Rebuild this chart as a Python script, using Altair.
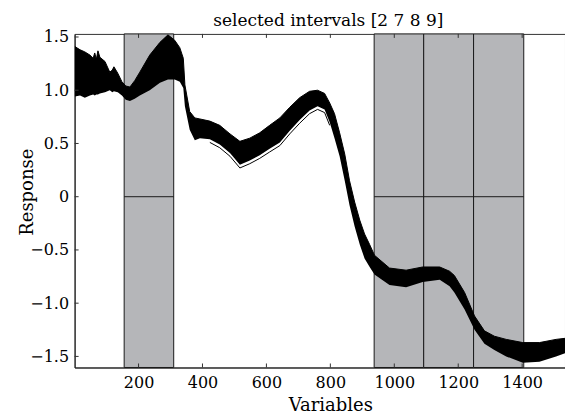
import altair as alt
import pandas as pd

# ---- data ----
band_v = [1, 17, 32, 48, 58, 63, 68, 73, 79, 95, 110, 118, 123, 135, 148, 160, 173, 188, 204,
          235, 267, 292, 313, 329, 340, 345, 360, 376, 392, 423, 454, 486, 517, 548, 579, 610,
          642, 673, 704, 735, 760, 782, 798, 813, 829, 845, 860, 876, 892, 907, 923, 938, 985,
          1037, 1089, 1142, 1173, 1188, 1220, 1251, 1282, 1313, 1350, 1402, 1454, 1506, 1534]
band_upper = [1.41, 1.38, 1.36, 1.33, 1.30, 1.35, 1.29, 1.37, 1.31, 1.27, 1.17, 1.19, 1.22, 1.16,
              1.08, 1.04, 1.03, 1.09, 1.17, 1.33, 1.45, 1.52, 1.47, 1.40, 1.30, 1.05, 0.80, 0.74,
              0.73, 0.71, 0.67, 0.59, 0.52, 0.55, 0.60, 0.67, 0.74, 0.84, 0.93, 0.99, 1.00, 0.97,
              0.88, 0.78, 0.60, 0.40, 0.15, -0.05, -0.22, -0.35, -0.45, -0.55, -0.67, -0.69, -0.66,
              -0.66, -0.70, -0.74, -0.90, -1.12, -1.26, -1.31, -1.34, -1.37, -1.37, -1.34, -1.33]
band_lower = [0.94, 0.95, 0.93, 0.95, 0.96, 0.95, 0.96, 0.96, 0.97, 0.98, 1.00, 0.98, 0.99, 0.98,
              0.95, 0.91, 0.90, 0.92, 0.95, 1.00, 1.07, 1.10, 1.10, 1.08, 1.02, 0.85, 0.63, 0.53,
              0.55, 0.54, 0.49, 0.41, 0.30, 0.34, 0.39, 0.45, 0.51, 0.62, 0.72, 0.81, 0.85, 0.82,
              0.70, 0.55, 0.38, 0.15, -0.08, -0.28, -0.45, -0.58, -0.66, -0.73, -0.83, -0.85, -0.80,
              -0.78, -0.84, -0.90, -1.06, -1.25, -1.38, -1.44, -1.50, -1.56, -1.55, -1.50, -1.47]

outlier_v = [423, 454, 486, 517, 548, 579, 610, 642, 673, 704, 735, 760, 782, 798]
outlier_r = [0.51, 0.46, 0.38, 0.27, 0.31, 0.36, 0.42, 0.48, 0.59, 0.69, 0.78, 0.82,
             0.79, 0.67]

interval_start = [155, 937, 1092, 1248]
interval_end = [310, 1092, 1248, 1405]

x_ticks = [200, 400, 600, 800, 1000, 1200, 1400]
y_ticks = [-1.5, -1.0, -0.5, 0, 0.5, 1.0, 1.5]

title_text = "selected intervals [2 7 8 9]"

# ---- layout ----
W, H = 491, 334
FONT = "DejaVu Serif"
xs = alt.Scale(domain=[0, 1534], nice=False, zero=False)
ys = alt.Scale(domain=[-1.604, 1.529], nice=False, zero=False)

x_axis = alt.Axis(values=x_ticks, format="d", ticks=False, grid=False,
                  labelPadding=7, titleX=256, titleY=43, titleBaseline="alphabetic")
y_axis = alt.Axis(values=y_ticks, ticks=False, grid=False, labelPadding=6,
                  labelExpr="datum.value == 0 ? '0' : format(datum.value, '.1f')",
                  titleX=-42, titleY=158, titleBaseline="alphabetic")


def X(field):
    return alt.X(field, scale=xs, axis=x_axis, title="Variables")


def Y(field):
    return alt.Y(field, scale=ys, axis=y_axis, title="Response")


band_df = pd.DataFrame({"v": band_v, "upper": band_upper, "lower": band_lower})
out_df = pd.DataFrame({"v": outlier_v, "r": outlier_r})
iv_df = pd.DataFrame({"start": interval_start, "end": interval_end, "zero": [0] * 4})
xt_df = pd.DataFrame({"t": x_ticks})
yt_df = pd.DataFrame({"t": y_ticks})
tt_df = pd.DataFrame({"t": [title_text]})

rects = alt.Chart(iv_df).mark_rect(color="#b5b6b9", stroke="#1a1a1a", strokeWidth=1).encode(
    x=X("start:Q"), x2="end:Q", y=alt.value(0), y2=alt.value(H))

zero_rules = alt.Chart(iv_df).mark_rule(color="#1a1a1a", strokeWidth=1).encode(
    x=X("start:Q"), x2="end:Q", y=Y("zero:Q"))

band = alt.Chart(band_df).mark_area(color="black", opacity=1,
                                    line={"color": "black", "strokeWidth": 1}).encode(
    x=X("v:Q"), y=Y("upper:Q"), y2="lower:Q")

outlier = alt.Chart(out_df).mark_line(color="black", strokeWidth=1).encode(
    x=X("v:Q"), y=Y("r:Q"))

xt_bottom = alt.Chart(xt_df).mark_rule(color="#333", strokeWidth=1).encode(
    x=X("t:Q"), y=alt.value(H), y2=alt.value(H - 4))
xt_top = alt.Chart(xt_df).mark_rule(color="#333", strokeWidth=1).encode(
    x=X("t:Q"), y=alt.value(0), y2=alt.value(4))
yt_left = alt.Chart(yt_df).mark_rule(color="#333", strokeWidth=1).encode(
    y=Y("t:Q"), x=alt.value(0), x2=alt.value(4))

title_mark = alt.Chart(tt_df).mark_text(font=FONT, fontSize=17, color="black",
                                        baseline="alphabetic", align="center").encode(
    text="t:N", x=alt.value(254), y=alt.value(-8))

chart = alt.layer(rects, zero_rules, outlier, band, xt_bottom, xt_top, yt_left,
                  title_mark).properties(
    width=W, height=H, background="white",
    autosize=alt.AutoSizeParams(type="none"),
    padding={"left": 74.7, "top": 33.7, "right": 0, "bottom": 46},
).configure_view(stroke="#333", strokeWidth=1).configure_axis(
    labelFont=FONT, labelFontSize=16, labelColor="black",
    titleFont=FONT, titleFontSize=18, titleFontWeight="normal", titleColor="black",
    domainColor="#222", domainWidth=1,
)

chart.save("out.html", embed_options={"renderer": "svg", "actions": False})
